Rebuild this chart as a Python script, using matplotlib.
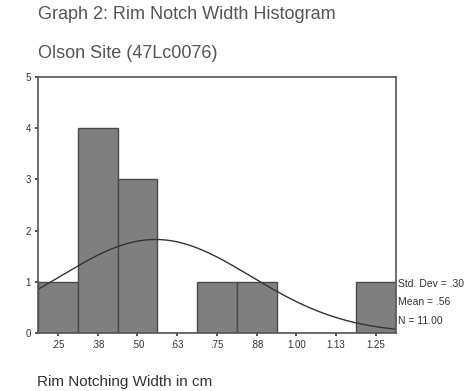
import numpy as np
import matplotlib
matplotlib.use('Agg')
from matplotlib import pyplot as plt

# histogram bins (centres, cm) and counts
bin_centers = [0.25, 0.375, 0.50, 0.625, 0.75, 0.875, 1.00, 1.125, 1.25]
counts = [1, 4, 3, 0, 1, 1, 0, 0, 1]
tick_labels = ['.25', '.38', '.50', '.63', '.75', '.88', '1.00', '1.13', '1.25']
std_dev = 0.30
mean = 0.557
n = 11
bin_width = 0.125

plt.rcParams['font.family'] = ['Liberation Sans', 'DejaVu Sans']

fig = plt.figure(figsize=(4.7, 3.91), dpi=100)
ax = fig.add_axes([0.081, 0.148, 0.761, 0.655])

ax.bar(bin_centers, counts, width=bin_width, color='#7f7f7f',
       edgecolor='#4a4a4a', linewidth=1.0)

# fitted normal curve
x = np.linspace(bin_centers[0] - bin_width/2, bin_centers[-1] + bin_width/2, 200)
y = n*bin_width/(std_dev*np.sqrt(2*np.pi))*np.exp(-0.5*((x - mean)/std_dev)**2)
ax.plot(x, y, color='#333333', linewidth=1.0)

ax.set_xlim(bin_centers[0] - bin_width/2, bin_centers[-1] + bin_width/2)
ax.set_ylim(0, 5)
ax.set_xticks(bin_centers)
ax.set_xticklabels(tick_labels)
ax.set_yticks(range(6))
ax.tick_params(labelsize=7, length=2, width=1.2, color='#333333', pad=3, labelcolor='#333333')
for s in ax.spines.values():
    s.set_color('#555555')
    s.set_linewidth(1.2)

fig.text(0.081, 0.962, 'Graph 2: Rim Notch Width Histogram', fontsize=13, color='#555555', va='center')
fig.text(0.081, 0.864, 'Olson Site (47Lc0076)', fontsize=13, color='#555555', va='center')
fig.text(0.079, 0.023, 'Rim Notching Width in cm', fontsize=11, color='#333333', va='center')

stats = ['Std. Dev = %.2f' % std_dev, 'Mean = %.2f' % mean, 'N = %.2f' % n]
for i, s in enumerate(stats):
    fig.text(0.847, 0.274 - i*0.047, s.replace('0.', '.'), fontsize=7.5, color='#333333', va='center')

fig.savefig('out.png', dpi=100)
